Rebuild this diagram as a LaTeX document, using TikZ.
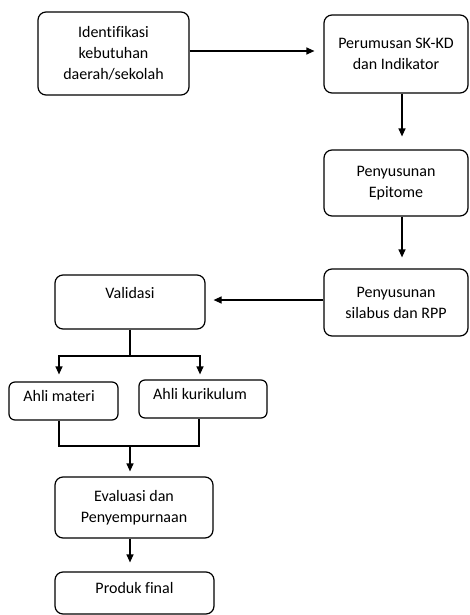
\documentclass[tikz,border=0pt]{standalone}
\usepackage{fontspec}
\setmainfont{Carlito}[Ligatures={NoCommon}]
\usetikzlibrary{arrows.meta,calc}
\tikzset{
  box/.style={draw, line width=1.2pt, rounded corners=8pt, inner sep=0pt, align=center,
    font=\fontsize{16}{21}\selectfont},
  one/.style={text height=11pt, text depth=#1},
  conn/.style={line width=1.2pt},
  arr/.style={conn, -{Triangle[length=8pt,width=7pt]}},
}
\begin{document}
\begin{tikzpicture}[x=1pt,y=-1pt]
\useasboundingbox (0,0) rectangle (470,615);
\node[box, minimum width=151pt, minimum height=83pt] (B1) at (113.5,53.5) {Identifikasi\\kebutuhan\\daerah/sekolah};
\node[box, minimum width=144pt, minimum height=78pt] (B2) at (396,54) {Perumusan SK-KD\\dan Indikator};
\node[box, minimum width=144pt, minimum height=66pt] (B3) at (396,183) {Penyusunan\\Epitome};
\node[box, minimum width=144pt, minimum height=67pt] (B4) at (396,302.5) {Penyusunan\\silabus dan RPP};
\node[box, one=19pt, minimum width=150pt, minimum height=54pt] (Val) at (130,302) {Validasi};
\node[box, one=11pt, rounded corners=6pt, minimum width=109pt, minimum height=38pt] (AM) at (63.5,401) {\hspace*{-9pt}Ahli materi};
\node[box, one=11pt, rounded corners=6pt, minimum width=128pt, minimum height=38pt] (AK) at (203,399) {\hspace*{-6pt}Ahli kurikulum};
\node[box, minimum width=158pt, minimum height=61pt] (Ev) at (134,507.5) {Evaluasi dan\\Penyempurnaan};
\node[box, one=11pt, minimum width=159pt, minimum height=42pt] (PF) at (134.5,593) {Produk final};
\coordinate (split) at (130,356);
\coordinate (merge) at (130,446);
\draw[arr, shorten >=9pt] ([yshift=2.5pt]B1.east) -- ([yshift=2.5pt]B1.east -| B2.west);
\draw[arr, shorten >=13pt] ([xshift=6pt]B2.south) -- ([xshift=6pt]B3.north);
\draw[arr, shorten >=11pt] ([xshift=6pt]B3.south) -- ([xshift=6pt]B4.north);
\draw[arr, shorten >=8pt] ([yshift=2.5pt]B4.west) -- ([yshift=2.5pt]B4.west -| Val.east);
\draw[conn] (Val.south) -- (split);
\draw[arr, shorten >=7pt] (split) -| ([xshift=-4.5pt]AM.north);
\draw[arr, shorten >=5pt] (split) -| ([xshift=-3pt]AK.north);
\draw[conn] ([xshift=-4.5pt]AM.south) |- (merge) -| ([xshift=-4pt]AK.south);
\draw[arr, shorten >=5pt] (merge) -- (merge |- Ev.north);
\draw[arr, shorten >=9pt] ([xshift=-4pt]Ev.south) -- ([xshift=-4pt]Ev.south |- PF.north);
\end{tikzpicture}
\end{document}
